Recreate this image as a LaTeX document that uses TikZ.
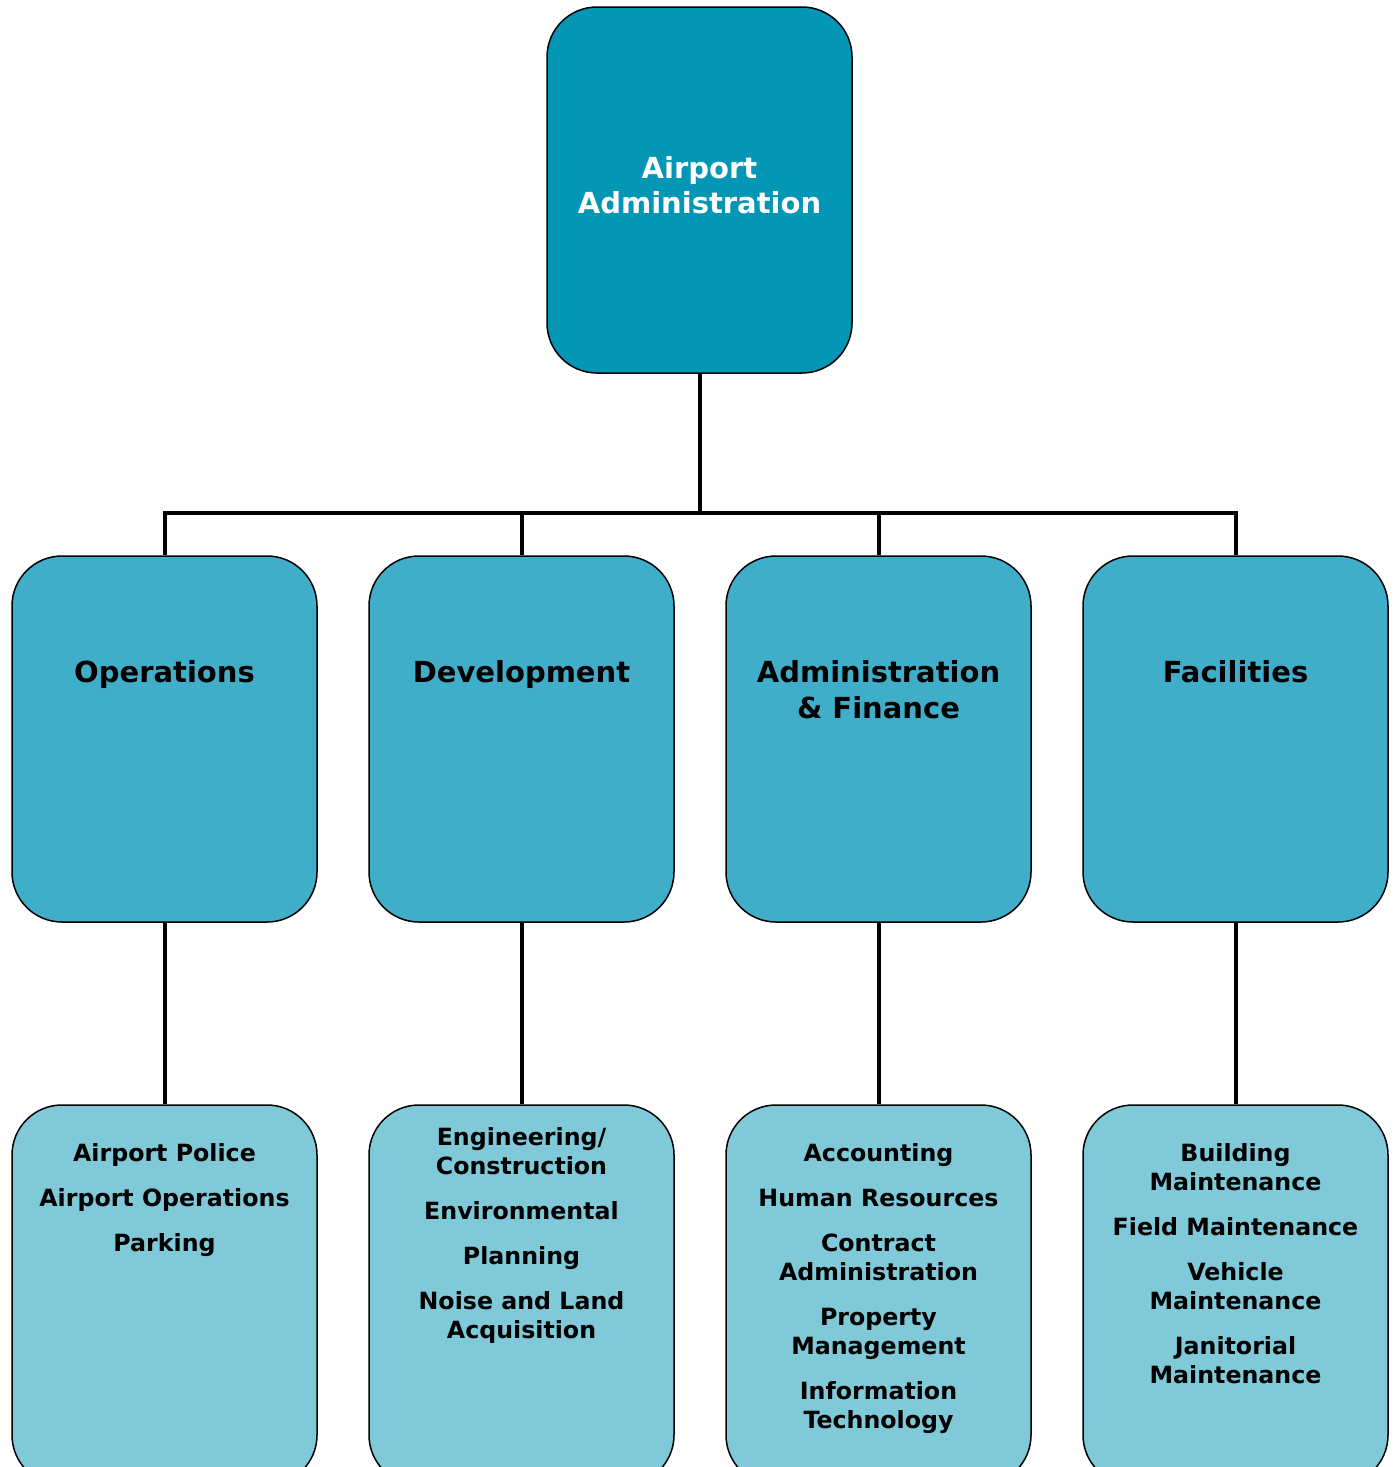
\documentclass[tikz,border=0pt]{standalone}
\usepackage{fontspec}
\setmainfont{DejaVu Sans}
\usetikzlibrary{positioning}

\definecolor{topfill}{RGB}{3,150,181}
\definecolor{midfill}{RGB}{65,174,201}
\definecolor{lowfill}{RGB}{128,201,216}

\begin{document}
\begin{tikzpicture}[
  x=1pt, y=-1pt,
  font=\bfseries,
  box/.style={rectangle, rounded corners=50pt, draw=black, line width=1.5pt,
              minimum width=305pt, minimum height=366pt, inner sep=0pt},
  topbox/.style={box, fill=topfill},
  midbox/.style={box, fill=midfill},
  lowbox/.style={box, fill=lowfill, minimum height=380pt},
  toptitle/.style={align=center, text=white, inner sep=0pt,
                   font=\bfseries\fontsize{29}{35}\selectfont},
  title/.style={align=center, anchor=north, inner sep=0pt,
                font=\bfseries\fontsize{29}{36}\selectfont},
  items/.style={align=center, anchor=north, inner sep=0pt,
                font=\bfseries\fontsize{23.7}{29}\selectfont},
  link/.style={line width=4pt}
]
\useasboundingbox (0,0) rectangle (1397,1467);
\clip (0,0) rectangle (1397,1467);

% ---- top of the chart ----
\node[topbox] (admin) at (699.5,190) {};
\node[toptitle] (admin-title) at (699.5,185) {Airport\\Administration};
\coordinate (bus) at (699.5,513);
\draw[link] (admin.south) -- (bus);

% ---- divisions and their sections ----
\foreach \name/\xc/\title in {ops/164.5/Operations,
                              dev/521.5/Development,
                              fin/878.5/{Administration\\\& Finance},
                              fac/1235.5/Facilities} {
  \node[midbox] (\name) at (\xc,739) {};
  \node[title] (\name-title) at (\xc,660) {\title};
  \node[lowbox] (\name-low) at (\xc,1295) {};
  \draw[link] (bus) -| (\name.north);
  \draw[link] (\name.south) -- (\name-low.north);
}

% ---- section lists ----
\node[items] (ops-list) at (164.5,1143) {Airport Police\\[16pt]
  Airport Operations\\[16pt] Parking};
\node[items] (dev-list) at (521.5,1127) {Engineering/\\Construction\\[16pt]
  Environmental\\[16pt] Planning\\[16pt] Noise and Land\\Acquisition};
\node[items] (fin-list) at (878.5,1143) {Accounting\\[16pt]
  Human Resources\\[16pt] Contract\\Administration\\[16pt]
  Property\\Management\\[16pt] Information\\Technology};
\node[items] (fac-list) at (1235.5,1143) {Building\\Maintenance\\[16pt]
  Field Maintenance\\[16pt] Vehicle\\Maintenance\\[16pt]
  Janitorial\\Maintenance};

\end{tikzpicture}
\end{document}
